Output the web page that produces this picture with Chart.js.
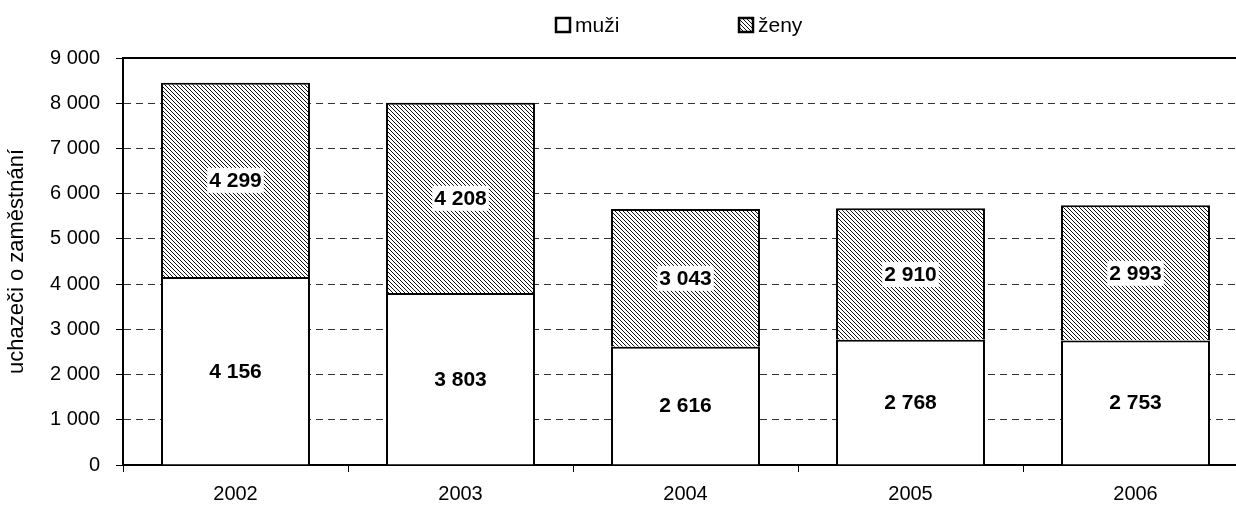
<!DOCTYPE html>
<html>
<head>
<meta charset="utf-8">
<script src="https://cdn.jsdelivr.net/npm/chart.js@4/dist/chart.umd.min.js"></script>
<style>
  html, body { margin: 0; padding: 0; background: #fff; overflow: hidden; }
  #wrap { width: 1236px; height: 505px; overflow: hidden; }
</style>
</head>
<body>
<div id="wrap"><canvas id="chart" width="1250" height="505"></canvas></div>
<script>
// Uchazeči o zaměstnání podle pohlaví, 2002–2006
const years = ['2002', '2003', '2004', '2005', '2006'];
const muzi = [4156, 3803, 2616, 2768, 2753];
const zeny = [4299, 4208, 3043, 2910, 2993];
const yTicks = [0, 1000, 2000, 3000, 4000, 5000, 6000, 7000, 8000, 9000];

const FONT = 'Arial, "Liberation Sans", sans-serif';

// thousands separated by a space, e.g. 4 299
function fmt(n) {
    return String(n).replace(/\B(?=(\d{3})+(?!\d))/g, ' ');
}

// diagonal hatch fill for ženy
function makeHatch() {
    const c = document.createElement('canvas');
    c.width = 4; c.height = 4;
    const g = c.getContext('2d');
    g.fillStyle = '#fff';
    g.fillRect(0, 0, 4, 4);
    g.strokeStyle = '#111';
    g.lineWidth = 1;
    g.beginPath();
    g.moveTo(-1, -1); g.lineTo(5, 5);
    g.moveTo(-1, 3); g.lineTo(1, 5);
    g.moveTo(3, -1); g.lineTo(5, 1);
    g.stroke();
    return g.createPattern(c, 'repeat');
}
const hatch = makeHatch();

// value labels on white boxes in the middle of each segment
const segmentLabels = {
    id: 'segmentLabels',
    afterDatasetsDraw(chart) {
        const ctx = chart.ctx;
        ctx.save();
        ctx.font = 'bold 21px ' + FONT;
        ctx.textAlign = 'center';
        ctx.textBaseline = 'middle';
        chart.data.datasets.forEach((ds, i) => {
            chart.getDatasetMeta(i).data.forEach((bar, j) => {
                const txt = fmt(ds.data[j]);
                const y = (bar.y + bar.base) / 2;
                const w = ctx.measureText(txt).width;
                ctx.fillStyle = '#fff';
                ctx.fillRect(bar.x - w / 2 - 2, y - 12, w + 4, 25);
                ctx.fillStyle = '#000';
                ctx.fillText(txt, bar.x, y + 1);
            });
        });
        ctx.restore();
    }
};

// solid frame line at the top of the plot + legend
const frameAndLegend = {
    id: 'frameAndLegend',
    afterDraw(chart) {
        const ctx = chart.ctx;
        const a = chart.chartArea;
        ctx.save();
        ctx.strokeStyle = '#000';
        ctx.lineWidth = 2;
        ctx.beginPath();
        ctx.moveTo(a.left, a.top);
        ctx.lineTo(a.right, a.top);
        ctx.stroke();

        const items = [
            { text: 'muži', fill: '#fff', x: 556 },
            { text: 'ženy', fill: hatch, x: 739 }
        ];
        ctx.font = '21px ' + FONT;
        ctx.textBaseline = 'middle';
        ctx.textAlign = 'left';
        items.forEach(it => {
            ctx.fillStyle = it.fill;
            ctx.fillRect(it.x, 18, 14, 14);
            ctx.lineWidth = 2.5;
            ctx.strokeStyle = '#000';
            ctx.strokeRect(it.x, 18, 14, 14);
            ctx.fillStyle = '#000';
            ctx.fillText(it.text, it.x + 19, 26);
        });
        ctx.restore();
    }
};

new Chart(document.getElementById('chart'), {
    type: 'bar',
    data: {
        labels: years,
        datasets: [
            {
                label: 'muži',
                data: muzi,
                backgroundColor: '#fff',
                borderColor: '#000',
                borderWidth: 2
            },
            {
                label: 'ženy',
                data: zeny,
                backgroundColor: hatch,
                borderColor: '#000',
                borderWidth: 2
            }
        ]
    },
    options: {
        responsive: false,
        devicePixelRatio: 1,
        animation: false,
        barPercentage: 1,
        categoryPercentage: 0.662,
        layout: { padding: { left: 0, right: 2, top: 58, bottom: 0 } },
        plugins: {
            legend: { display: false },
            tooltip: { enabled: false }
        },
        scales: {
            x: {
                stacked: true,
                afterFit: s => { s.height = 40; },
                grid: {
                    drawOnChartArea: false,
                    drawTicks: true,
                    tickLength: 7,
                    tickColor: '#000',
                    offset: true
                },
                border: { display: true, color: '#000', width: 2 },
                ticks: {
                    color: '#000',
                    font: { family: FONT, size: 20 },
                    padding: 10
                }
            },
            y: {
                stacked: true,
                min: 0,
                max: 9000,
                afterFit: s => { s.width = 123; },
                afterBuildTicks: s => { s.ticks = yTicks.map(v => ({ value: v })); },
                grid: {
                    color: c => (c.tick && (c.tick.value === 0 || c.tick.value === 9000)) ? 'rgba(0,0,0,0)' : '#333',
                    lineWidth: 1,
                    tickLength: 7,
                    tickColor: '#000'
                },
                border: { display: true, color: '#000', width: 2, dash: [7, 5] },
                ticks: {
                    color: '#000',
                    font: { family: FONT, size: 20 },
                    padding: 16,
                    callback: v => fmt(v)
                },
                title: {
                    display: true,
                    text: 'uchazeči o zaměstnání',
                    color: '#000',
                    font: { family: FONT, size: 22 },
                    padding: { top: 4, bottom: 0 }
                }
            }
        }
    },
    plugins: [segmentLabels, frameAndLegend]
});
</script>
</body>
</html>
